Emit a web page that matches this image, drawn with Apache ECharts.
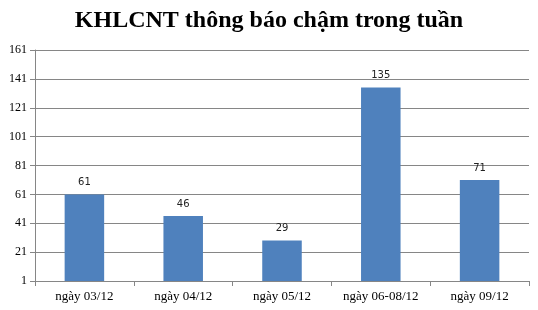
<!DOCTYPE html>
<html><head><meta charset="utf-8">
<script src="https://cdn.jsdelivr.net/npm/echarts@6/dist/echarts.min.js"></script>
<style>html,body{margin:0;padding:0;background:#fff}#c{width:538px;height:310px}</style>
</head><body><div id="c"></div>
<script>
const titleText = 'KHLCNT thông báo chậm trong tuần';
const categories = ['ngày 03/12', 'ngày 04/12', 'ngày 05/12', 'ngày 06-08/12', 'ngày 09/12'];
const values = [61, 46, 29, 135, 71];
const axisBase = 1;      // axis starts at 1
const axisTop = 161;
const axisStep = 20;

const chart = echarts.init(document.getElementById('c'), null, {renderer: 'canvas'});
chart.setOption({
  animation: false,
  backgroundColor: '#fff',
  title: {
    text: titleText, left: 'center', top: 4,
    textStyle: {fontFamily: 'Liberation Serif', fontWeight: 'bold', fontSize: 24, color: '#000'}
  },
  grid: {left: 35, right: 9, top: 50, bottom: 29, containLabel: false},
  xAxis: {
    type: 'category', data: categories,
    axisLine: {lineStyle: {color: '#868686', width: 1}},
    axisTick: {show: true, length: 5, lineStyle: {color: '#868686'}},
    axisLabel: {fontFamily: 'Liberation Serif', fontSize: 13, color: '#000', margin: 9}
  },
  yAxis: {
    type: 'value', min: 0, max: axisTop - axisBase, interval: axisStep,
    axisLine: {show: true, lineStyle: {color: '#868686', width: 1}},
    axisTick: {show: true, length: 5, lineStyle: {color: '#868686'}},
    splitLine: {lineStyle: {color: '#868686', width: 1}},
    axisLabel: {fontFamily: 'Liberation Serif', fontSize: 12, color: '#000', margin: 8,
      formatter: v => String(v + axisBase)}
  },
  series: [{
    type: 'bar',
    data: values.map(v => v - axisBase),
    barWidth: '40%',
    itemStyle: {color: '#4F81BD'},
    label: {show: true, position: 'top', distance: 7, fontFamily: 'DejaVu Sans', fontSize: 10, color: '#222',
      formatter: p => String(values[p.dataIndex])}
  }]
});
</script></body></html>
